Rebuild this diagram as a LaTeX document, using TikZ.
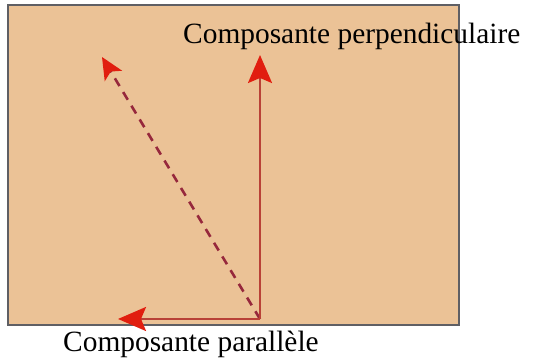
\documentclass[tikz,border=0pt]{standalone}
\usepackage{fontspec}
\setmainfont{Liberation Serif}
\usetikzlibrary{arrows.meta}
\definecolor{boxfill}{RGB}{235,194,150}
\definecolor{boxline}{RGB}{95,95,100}
\definecolor{vecline}{RGB}{185,65,55}
\definecolor{vechead}{RGB}{225,30,15}
\definecolor{dashline}{RGB}{150,40,60}

\begin{document}
\begin{tikzpicture}[x=1pt,y=1pt,
  vec/.style={line width=2.3pt,vecline,-{Stealth[length=28pt,width=24pt,inset=5pt,color=vechead]}},
  lbl/.style={inner sep=0pt,anchor=base west,font=\fontsize{29.4}{34}\selectfont}]
  \useasboundingbox (0,0) rectangle (536,358);
  \draw[boxline,line width=1.2pt,fill=boxfill] (8,33) rectangle (459,353);
  \coordinate (O) at (260,39);
  \coordinate (perptip) at (260,303);
  \coordinate (partip) at (118,39);
  \coordinate (restip) at (102,301);
  \draw[dashline,line width=2.6pt,dash pattern=on 9pt off 7pt,
    -{Stealth[length=22pt,width=20pt,inset=5pt,color=vechead]}] (O) -- (restip);
  \draw[vec] (O) -- (perptip);
  \draw[vec] (O) -- (partip);
  \node[lbl] (perp) at (183,314) {Composante perpendiculaire};
  \node[lbl] (par) at (63,6) {Composante parallèle};
\end{tikzpicture}
\end{document}
